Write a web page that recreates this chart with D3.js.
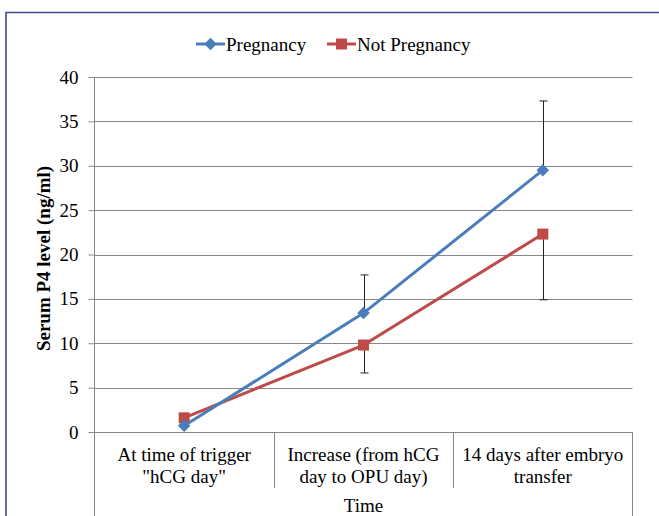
<!DOCTYPE html>
<html>
<head>
<meta charset="utf-8">
<script src="https://cdn.jsdelivr.net/npm/d3@7"></script>
<style>
  html, body { margin: 0; padding: 0; background: #fff; }
  svg { display: block; }
  svg text { font-family: "Liberation Serif", "DejaVu Serif", serif !important; fill: #000; }
</style>
</head>
<body>
<div id="chart"></div>
<script>
// Serum progesterone (P4) by time point, pregnant vs not pregnant
const categories = [
  "At time of trigger\n\"hCG day\"",
  "Increase (from hCG\nday to OPU day)",
  "14 days after embryo\ntransfer"
];
const pregnancy = [0.7, 13.4, 29.5];
const notPregnancy = [1.6, 9.8, 22.3];
// Error bars: upward on the pregnancy series, downward on the other
const pregnancyErrPlus = [0, 4.3, 7.8];
const notPregnancyErrMinus = [0, 3.15, 7.4];
const yTicks = [0, 5, 10, 15, 20, 25, 30, 35, 40];
const seriesNames = ["Pregnancy", "Not Pregnancy"];

const W = 659, H = 516;
const plotLeft = 94.5, plotRight = 632.5, plotTop = 77, plotBottom = 432;
const blue = "#4a7ebb", red = "#be4b48", grid = "#878787";

const svg = d3.select("#chart").append("svg")
  .attr("width", W).attr("height", H)
  .attr("font-family", "'Liberation Serif', serif");

// Frame around the chart
svg.append("path")
  .attr("d", `M6,${H} V12.5 H${W}`)
  .attr("fill", "none").attr("stroke", "#3b4c8c").attr("stroke-width", 1.6);

const x = d3.scaleBand().domain(d3.range(categories.length)).range([plotLeft, plotRight]);
const y = d3.scaleLinear().domain([0, 40]).range([plotBottom, plotTop]);

// Horizontal gridlines
svg.append("g").selectAll("line").data(yTicks).join("line")
  .attr("x1", plotLeft).attr("x2", plotRight)
  .attr("y1", d => Math.round(y(d)) + 0.5).attr("y2", d => Math.round(y(d)) + 0.5)
  .attr("stroke", grid).attr("stroke-width", 1);

// Y axis
const yAxis = svg.append("g")
  .attr("transform", `translate(${plotLeft},0)`)
  .call(d3.axisLeft(y).tickValues(yTicks).tickSize(6).tickPadding(10).tickFormat(d3.format("d")));
yAxis.attr("font-family", null).attr("font-size", null);
yAxis.select(".domain").remove();
yAxis.selectAll(".tick line").attr("stroke", grid);
yAxis.selectAll(".tick text").style("font-size", "19px").attr("fill", "#000");

// Axis line runs down through the category label area
svg.append("line").attr("x1", plotLeft).attr("x2", plotLeft).attr("y1", plotTop).attr("y2", H)
  .attr("stroke", grid);

// Category separators below the axis
const bounds = d3.range(1, categories.length).map(i => x(i));
svg.append("g").selectAll("line").data(bounds).join("line")
  .attr("x1", d => Math.round(d) + 0.5).attr("x2", d => Math.round(d) + 0.5)
  .attr("y1", plotBottom).attr("y2", 488).attr("stroke", grid);
svg.append("line").attr("x1", plotRight).attr("x2", plotRight).attr("y1", plotBottom).attr("y2", H)
  .attr("stroke", grid);

// Category labels
const catG = svg.append("g");
categories.forEach((c, i) => {
  const t = catG.append("text")
    .attr("x", x(i) + x.bandwidth() / 2).attr("y", 461)
    .attr("text-anchor", "middle").style("font-size", "19px");
  c.split("\n").forEach((line, j) => {
    t.append("tspan").attr("x", x(i) + x.bandwidth() / 2).attr("dy", j === 0 ? 0 : 22).text(line);
  });
});

// Axis titles
svg.append("text")
  .attr("x", (plotLeft + plotRight) / 2).attr("y", 512)
  .attr("text-anchor", "middle").style("font-size", "19px").text("Time");
svg.append("text")
  .attr("transform", `translate(50,${(plotTop + plotBottom) / 2 + 4}) rotate(-90)`)
  .attr("text-anchor", "middle").style("font-size", "19px").style("font-weight", "bold")
  .text("Serum P4 level (ng/ml)");

const cx = i => x(i) + x.bandwidth() / 2;

// Error bars
function errorBars(values, errs, dir) {
  const g = svg.append("g").attr("stroke", "#222").attr("stroke-width", 1);
  values.forEach((v, i) => {
    if (!errs[i]) return;
    const end = v + dir * errs[i];
    const xc = Math.round(cx(i)) + 0.5;
    g.append("line").attr("x1", xc).attr("x2", xc).attr("y1", y(v)).attr("y2", y(end));
    g.append("line").attr("x1", xc - 4).attr("x2", xc + 4).attr("y1", y(end)).attr("y2", y(end));
  });
}
errorBars(pregnancy, pregnancyErrPlus, 1);
errorBars(notPregnancy, notPregnancyErrMinus, -1);

const line = d3.line().x((d, i) => cx(i)).y(d => y(d));
const diamond = d3.symbol().type(d3.symbolDiamond2).size(100);
const sq = 11;

// Not Pregnancy series
svg.append("path").datum(notPregnancy).attr("d", line)
  .attr("fill", "none").attr("stroke", red).attr("stroke-width", 3).attr("stroke-linejoin", "round");
svg.append("g").selectAll("rect").data(notPregnancy).join("rect")
  .attr("x", (d, i) => cx(i) - sq / 2).attr("y", d => y(d) - sq / 2)
  .attr("width", sq).attr("height", sq).attr("fill", red);

// Pregnancy series
svg.append("path").datum(pregnancy).attr("d", line)
  .attr("fill", "none").attr("stroke", blue).attr("stroke-width", 3).attr("stroke-linejoin", "round");
svg.append("g").selectAll("path").data(pregnancy).join("path")
  .attr("d", diamond)
  .attr("transform", (d, i) => `translate(${cx(i)},${y(d)})`)
  .attr("fill", blue);

// Legend
const legend = svg.append("g").attr("transform", "translate(0,44)");
const legendItems = [
  { name: seriesNames[0], color: blue, x0: 196, marker: "diamond" },
  { name: seriesNames[1], color: red, x0: 327, marker: "square" }
];
legendItems.forEach(it => {
  legend.append("line").attr("x1", it.x0).attr("x2", it.x0 + 29).attr("y1", 0).attr("y2", 0)
    .attr("stroke", it.color).attr("stroke-width", 3);
  if (it.marker === "diamond") {
    legend.append("path").attr("d", diamond).attr("transform", `translate(${it.x0 + 14.5},0)`)
      .attr("fill", it.color);
  } else {
    legend.append("rect").attr("x", it.x0 + 14.5 - sq / 2).attr("y", -sq / 2)
      .attr("width", sq).attr("height", sq).attr("fill", it.color);
  }
  legend.append("text").attr("x", it.x0 + 30).attr("y", 6.5)
    .style("font-size", "19px").text(it.name);
});
</script>
</body>
</html>
